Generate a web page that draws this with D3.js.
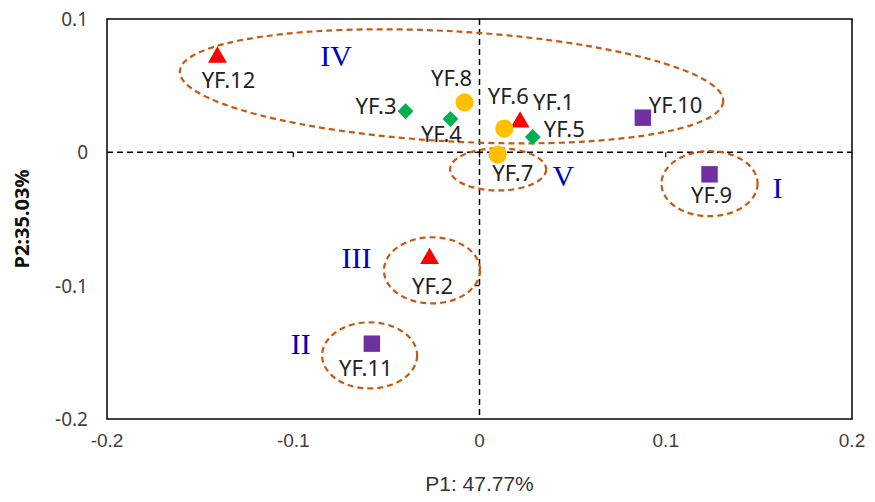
<!DOCTYPE html>
<html>
<head>
<meta charset="utf-8">
<script src="https://cdn.jsdelivr.net/npm/d3@7"></script>
<style>
  body { margin: 0; background: #fff; }
</style>
</head>
<body>
<div id="chart"></div>
<script>
// sample scores (P1, P2)
const names  = ["YF.1", "YF.2", "YF.3", "YF.4", "YF.5", "YF.6", "YF.7", "YF.8", "YF.9", "YF.10", "YF.11", "YF.12"];
const p1     = [0.0218, -0.0268, -0.0397, -0.0156, 0.0286, 0.0133, 0.0098, -0.0080, 0.1235, 0.0877, -0.0578, -0.1407];
const p2     = [0.0227, -0.0797, 0.0308, 0.0250, 0.0115, 0.0178, -0.0017, 0.0375, -0.0165, 0.0260, -0.1435, 0.0713];
const shapes = ["triangle", "triangle", "diamond", "diamond", "diamond", "circle", "circle", "circle", "square", "square", "square", "triangle"];

// ellipses around groups (centre and radii in data units, tilt in degrees)
const groupNames = ["I", "II", "III", "IV", "V"];
const groupCx    = [0.1235, -0.0590, -0.0255, -0.0150, 0.0100];
const groupCy    = [-0.0235, -0.1523, -0.0885, 0.0495, -0.0128];
const groupRx    = [0.0258, 0.0255, 0.0258, 0.1461, 0.0258];
const groupRy    = [0.0244, 0.0248, 0.0248, 0.0413, 0.0158];
const groupTilt  = [0, 0, 0, 3.2, 0];
// roman numeral label spots (data units)
const romanX     = [0.160, -0.096, -0.066, -0.077, 0.045];
const romanY     = [-0.026, -0.143, -0.079, 0.073, -0.017];

const xTicks = [-0.2, -0.1, 0, 0.1, 0.2];
const yTicks = [-0.2, -0.1, 0, 0.1];

const width = 875, height = 502;
const margin = {top: 19, right: 23, bottom: 83, left: 107};

const x = d3.scaleLinear().domain([-0.2, 0.2]).range([margin.left, width - margin.right]);
const y = d3.scaleLinear().domain([-0.2, 0.1]).range([height - margin.bottom, margin.top]);

const colors = {triangle: "#ff0000", square: "#7030a0", circle: "#ffc000", diamond: "#00b050"};
const symbols = {
  triangle: d3.symbol(d3.symbolTriangle, 155),
  square: d3.symbol(d3.symbolSquare, 270),
  circle: d3.symbol(d3.symbolCircle, 260),
  diamond: d3.symbol(d3.symbolSquare, 125)
};

// label offsets in pixels [dx, dy, anchor]
const labelPos = {
  "YF.1": [13, -12, "start"], "YF.2": [3, 35, "middle"], "YF.3": [-9, 3, "end"],
  "YF.4": [-9, 23, "middle"], "YF.5": [11, 0, "start"], "YF.6": [4, -25, "middle"],
  "YF.7": [15, 26, "middle"], "YF.8": [-13, -16, "middle"], "YF.9": [2, 29, "middle"],
  "YF.10": [6, -5, "start"], "YF.11": [-6, 32, "middle"], "YF.12": [11, 31, "middle"]
};

const svg = d3.select("#chart").append("svg")
  .attr("width", width)
  .attr("height", height)
  .attr("viewBox", [0, 0, width, height]);

// frame
svg.append("rect")
  .attr("x", x(-0.2)).attr("y", y(0.1))
  .attr("width", x(0.2) - x(-0.2)).attr("height", y(-0.2) - y(0.1))
  .attr("fill", "none").attr("stroke", "#000").attr("stroke-width", 1.5);

// dashed zero lines
svg.append("line")
  .attr("x1", x(-0.2)).attr("x2", x(0.2)).attr("y1", y(0)).attr("y2", y(0))
  .attr("stroke", "#000").attr("stroke-width", 1.5).attr("stroke-dasharray", "6,4");
svg.append("line")
  .attr("x1", x(0)).attr("x2", x(0)).attr("y1", y(0.1)).attr("y2", y(-0.2))
  .attr("stroke", "#000").attr("stroke-width", 1.5).attr("stroke-dasharray", "6,4");

// small tick marks on the crossing axes
svg.append("g").selectAll("line")
  .data(xTicks.slice(1, -1))
  .join("line")
    .attr("x1", d => x(d)).attr("x2", d => x(d))
    .attr("y1", y(0)).attr("y2", y(0) + 5)
    .attr("stroke", "#000").attr("stroke-width", 1.2);
svg.append("g").selectAll("line")
  .data(yTicks.slice(1, -1))
  .join("line")
    .attr("x1", x(0) - 5).attr("x2", x(0))
    .attr("y1", d => y(d)).attr("y2", d => y(d))
    .attr("stroke", "#000").attr("stroke-width", 1.2);

// tick labels
svg.append("g")
    .attr("font-family", "'Liberation Sans Narrow', 'Liberation Sans', sans-serif")
    .attr("font-size", 19)
    .attr("fill", "#404040")
    .attr("text-anchor", "middle")
  .selectAll("text")
  .data(xTicks)
  .join("text")
    .attr("x", d => x(d))
    .attr("y", y(-0.2) + 28)
    .text(d => String(d));

svg.append("g")
    .attr("font-family", "'Noto Sans', sans-serif")
    .attr("font-size", 19)
    .attr("fill", "#404040")
    .attr("text-anchor", "end")
  .selectAll("text")
  .data(yTicks)
  .join("text")
    .attr("x", x(-0.2) - 19)
    .attr("y", d => y(d))
    .attr("dy", "0.36em")
    .text(d => String(d));

// axis titles
svg.append("text")
  .attr("x", x(0))
  .attr("y", 491)
  .attr("text-anchor", "middle")
  .attr("font-family", "'Liberation Sans Narrow', 'Liberation Sans', sans-serif")
  .attr("font-size", 21)
  .attr("fill", "#333")
  .text("P1: 47.77%");

svg.append("text")
  .attr("transform", `translate(29,${y(-0.05)}) rotate(-90)`)
  .attr("text-anchor", "middle")
  .attr("font-family", "'Noto Sans', sans-serif")
  .attr("font-weight", "bold")
  .attr("font-size", 20)
  .attr("fill", "#111")
  .text("P2:35.03%");

// group ellipses
const kx = x(1) - x(0), ky = y(0) - y(1);
svg.append("g").selectAll("ellipse")
  .data(groupNames.map((g, i) => i))
  .join("ellipse")
    .attr("transform", i => `translate(${x(groupCx[i])},${y(groupCy[i])}) rotate(${groupTilt[i]})`)
    .attr("rx", i => groupRx[i] * kx)
    .attr("ry", i => groupRy[i] * ky)
    .attr("fill", "none")
    .attr("stroke", "#c55a11")
    .attr("stroke-width", 2.2)
    .attr("stroke-dasharray", "6,4");

svg.append("g")
    .attr("font-family", "'Times New Roman', 'Liberation Serif', serif")
    .attr("font-size", 30)
    .attr("fill", "#0000c0")
    .attr("text-anchor", "middle")
  .selectAll("text")
  .data(groupNames.map((g, i) => i))
  .join("text")
    .attr("x", i => x(romanX[i]))
    .attr("y", i => y(romanY[i]))
    .attr("dy", "0.35em")
    .text(i => groupNames[i]);

// points
const idx = d3.range(names.length);
svg.append("g").selectAll("path")
  .data(idx)
  .join("path")
    .attr("transform", i => `translate(${x(p1[i])},${y(p2[i])})` + (shapes[i] === "diamond" ? " rotate(45)" : ""))
    .attr("d", i => symbols[shapes[i]]())
    .attr("fill", i => colors[shapes[i]]);

svg.append("g")
    .attr("font-family", "'Noto Sans', sans-serif")
    .attr("font-size", 22)
    .attr("fill", "#222")
  .selectAll("text")
  .data(idx)
  .join("text")
    .attr("x", i => x(p1[i]) + labelPos[names[i]][0])
    .attr("y", i => y(p2[i]) + labelPos[names[i]][1])
    .attr("text-anchor", i => labelPos[names[i]][2])
    .text(i => names[i]);
</script>
</body>
</html>
